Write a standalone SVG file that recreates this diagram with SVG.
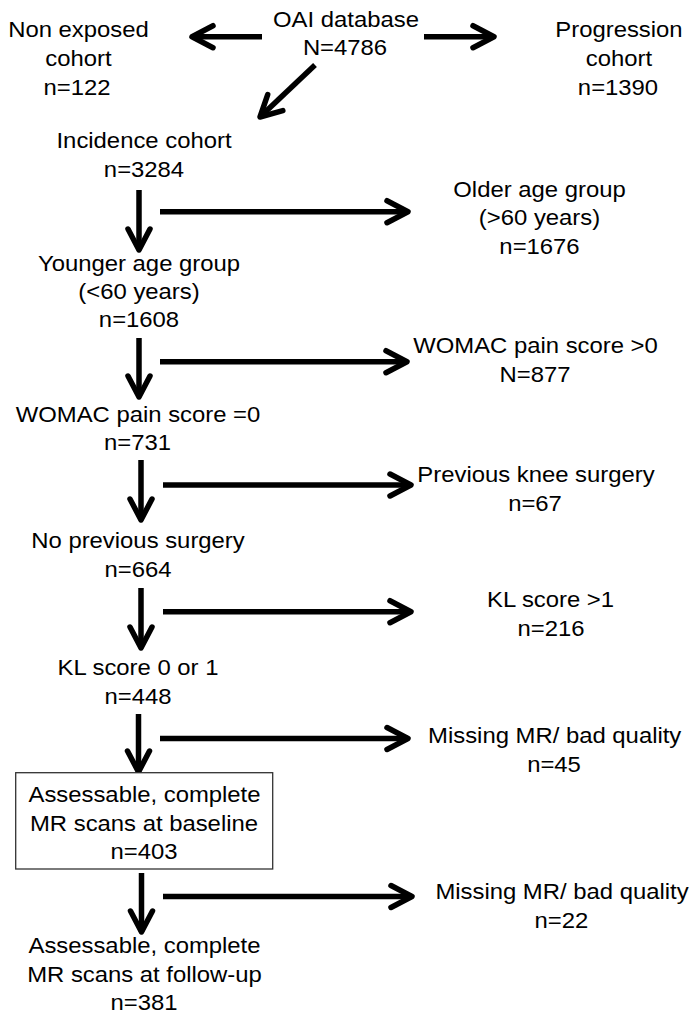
<svg xmlns="http://www.w3.org/2000/svg" width="699" height="1021" viewBox="0 0 699 1021">
<style>
text{font-family:"Liberation Sans",Arial,sans-serif;font-size:22px;fill:#000;text-anchor:middle}
.c{stroke:#000;stroke-width:5.5;fill:none}
.box{fill:#fff;stroke:#333;stroke-width:1.3}
</style>
<defs>
<marker id="ah" markerUnits="userSpaceOnUse" viewBox="-26 -15 30 30" refX="0" refY="0" markerWidth="30" markerHeight="30" orient="auto" overflow="visible">
<path d="M-21,-11 L0,0 L-21,11" fill="none" stroke="#000" stroke-width="5.5" stroke-linecap="round" stroke-linejoin="round"/>
</marker>
</defs>
<rect width="699" height="1021" fill="#fff"/>
<g id="connectors">
<line class="c" x1="262" y1="36.7" x2="192" y2="36.7" marker-end="url(#ah)"/>
<line class="c" x1="424" y1="36.7" x2="494" y2="36.7" marker-end="url(#ah)"/>
<line class="c" x1="315" y1="65" x2="260" y2="117" marker-end="url(#ah)"/>
<line class="c" x1="139" y1="190" x2="139" y2="250" marker-end="url(#ah)"/>
<line class="c" x1="160" y1="211.7" x2="408" y2="211.7" marker-end="url(#ah)"/>
<line class="c" x1="139" y1="338" x2="139" y2="397" marker-end="url(#ah)"/>
<line class="c" x1="160" y1="361.7" x2="407" y2="361.7" marker-end="url(#ah)"/>
<line class="c" x1="141" y1="460" x2="141" y2="520" marker-end="url(#ah)"/>
<line class="c" x1="163" y1="485" x2="411" y2="485" marker-end="url(#ah)"/>
<line class="c" x1="141" y1="588" x2="141" y2="648" marker-end="url(#ah)"/>
<line class="c" x1="163" y1="611.7" x2="411" y2="611.7" marker-end="url(#ah)"/>
<line class="c" x1="138.5" y1="714" x2="138.5" y2="772" marker-end="url(#ah)"/>
<line class="c" x1="160" y1="738.5" x2="408" y2="738.5" marker-end="url(#ah)"/>
<line class="c" x1="141.5" y1="873" x2="141.5" y2="932" marker-end="url(#ah)"/>
<line class="c" x1="163" y1="896.5" x2="412" y2="896.5" marker-end="url(#ah)"/>
</g>
<g id="oai">
<text transform="translate(346,26.7) scale(1.085,1)">OAI database</text>
<text transform="translate(345,54.5) scale(1.085,1)">N=4786</text>
</g>
<g id="nonexposed">
<text transform="translate(78.5,36.7) scale(1.085,1)">Non exposed</text>
<text transform="translate(78.5,66) scale(1.085,1)">cohort</text>
<text transform="translate(77,94.5) scale(1.085,1)">n=122</text>
</g>
<g id="progression">
<text transform="translate(619,36.7) scale(1.085,1)">Progression</text>
<text transform="translate(619,66) scale(1.085,1)">cohort</text>
<text transform="translate(618,94.5) scale(1.085,1)">n=1390</text>
</g>
<g id="incidence">
<text transform="translate(144,148.3) scale(1.085,1)">Incidence cohort</text>
<text transform="translate(144,176.7) scale(1.085,1)">n=3284</text>
</g>
<g id="older">
<text transform="translate(539.5,196.5) scale(1.085,1)">Older age group</text>
<text transform="translate(539.5,225) scale(1.085,1)">(&gt;60 years)</text>
<text transform="translate(539.5,253.5) scale(1.085,1)">n=1676</text>
</g>
<g id="younger">
<text transform="translate(139,270.7) scale(1.085,1)">Younger age group</text>
<text transform="translate(139,299) scale(1.085,1)">(&lt;60 years)</text>
<text transform="translate(139,327) scale(1.085,1)">n=1608</text>
</g>
<g id="womacpos">
<text transform="translate(535.5,353.3) scale(1.085,1)">WOMAC pain score &gt;0</text>
<text transform="translate(535,382) scale(1.085,1)">N=877</text>
</g>
<g id="womaczero">
<text transform="translate(138,421.7) scale(1.085,1)">WOMAC pain score =0</text>
<text transform="translate(137.5,450) scale(1.085,1)">n=731</text>
</g>
<g id="prevsurgery">
<text transform="translate(536,481.7) scale(1.085,1)">Previous knee surgery</text>
<text transform="translate(535,510.5) scale(1.085,1)">n=67</text>
</g>
<g id="noprev">
<text transform="translate(138,548.3) scale(1.085,1)">No previous surgery</text>
<text transform="translate(138,576.7) scale(1.085,1)">n=664</text>
</g>
<g id="klhigh">
<text transform="translate(550.5,607.3) scale(1.085,1)">KL score &gt;1</text>
<text transform="translate(551,636) scale(1.085,1)">n=216</text>
</g>
<g id="kllow">
<text transform="translate(138,675) scale(1.085,1)">KL score 0 or 1</text>
<text transform="translate(138,703.5) scale(1.085,1)">n=448</text>
</g>
<g id="missing1">
<text transform="translate(554.7,743.3) scale(1.085,1)">Missing MR/ bad quality</text>
<text transform="translate(554,772) scale(1.085,1)">n=45</text>
</g>
<g id="baseline">
<rect class="box" x="15.7" y="772.7" width="257" height="96.3"/>
<text transform="translate(144.5,801.7) scale(1.085,1)">Assessable, complete</text>
<text transform="translate(144,830.5) scale(1.085,1)">MR scans at baseline</text>
<text transform="translate(144,858.5) scale(1.085,1)">n=403</text>
</g>
<g id="missing2">
<text transform="translate(562,899.3) scale(1.085,1)">Missing MR/ bad quality</text>
<text transform="translate(561.3,928) scale(1.085,1)">n=22</text>
</g>
<g id="followup">
<text transform="translate(144.5,952.7) scale(1.085,1)">Assessable, complete</text>
<text transform="translate(144.5,981.5) scale(1.085,1)">MR scans at follow-up</text>
<text transform="translate(144,1010) scale(1.085,1)">n=381</text>
</g>
</svg>
